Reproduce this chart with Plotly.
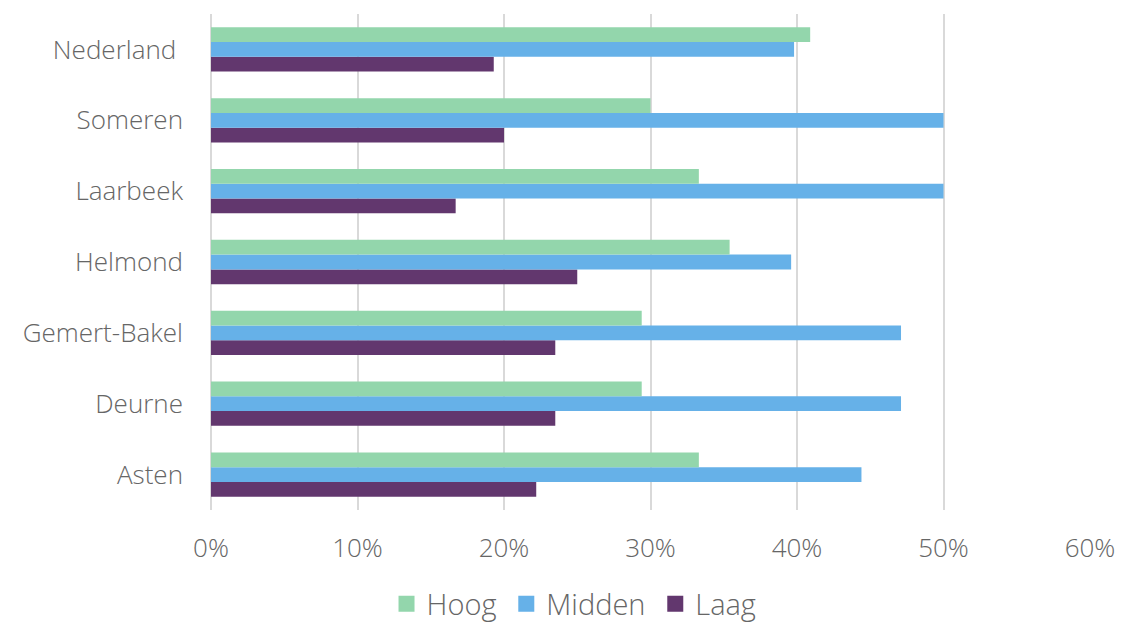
import plotly.graph_objects as go

categories = ["Asten", "Deurne", "Gemert-Bakel", "Helmond", "Laarbeek", "Someren", "Nederland\u00a0"]
hoog = [33.3, 29.4, 29.4, 35.4, 33.3, 30.0, 40.9]
midden = [44.4, 47.1, 47.1, 39.6, 50.0, 50.0, 39.8]
laag = [22.2, 23.5, 23.5, 25.0, 16.7, 20.0, 19.3]
tick_vals = [0, 10, 20, 30, 40, 50, 60]
tick_text = ["0%", "10%", "20%", "30%", "40%", "50%", "60%"]
series_names = ["Hoog\u2009", "Midden\u2009", "Laag"]
series_colors = ["#93D6AC", "#66B1E8", "#62376E"]

font_family = "Open Sans"
grey = "#666666"

fig = go.Figure()
for name, vals, col in [("Laag", laag, "#62376E"), ("Midden", midden, "#66B1E8"), ("Hoog", hoog, "#93D6AC")]:
    fig.add_trace(go.Bar(name=name, y=categories, x=vals, orientation="h", showlegend=False,
                         marker=dict(color=col, line=dict(width=0))))
# legend entries with square swatches
for name, col in zip(series_names, series_colors):
    fig.add_trace(go.Scatter(name=name, x=[None], y=[None], mode="markers",
                             marker=dict(symbol="square", size=16, color=col),
                             showlegend=True))

fig.update_layout(
    width=1122, height=624,
    margin=dict(l=211, r=32, t=14, b=114, autoexpand=False),
    paper_bgcolor="white", plot_bgcolor="white",
    barmode="group", bargap=0.375, bargroupgap=0,
    font=dict(family=font_family, color=grey, size=26, weight=300),
    legend=dict(orientation="h", traceorder="normal",
                x=0.413, xanchor="center", y=-0.138, yanchor="top",
                font=dict(size=29, family=font_family, color=grey, weight=300),
                itemwidth=30),
    showlegend=True,
)
fig.update_xaxes(range=[0, 60], tickvals=tick_vals, ticktext=tick_text,
                 showgrid=True, gridcolor="#D9D9D9", gridwidth=1.5,
                 zeroline=True, zerolinecolor="#D9D9D9", zerolinewidth=1.5,
                 showline=False, ticks="", ticklabelstandoff=20,
                 tickfont=dict(size=26, color=grey, family=font_family, weight=300))
fig.update_yaxes(showgrid=False, showline=False, ticks="", ticklabelstandoff=27,
                 tickfont=dict(size=26, color=grey, family=font_family, weight=300))

fig.write_html("out.html")
